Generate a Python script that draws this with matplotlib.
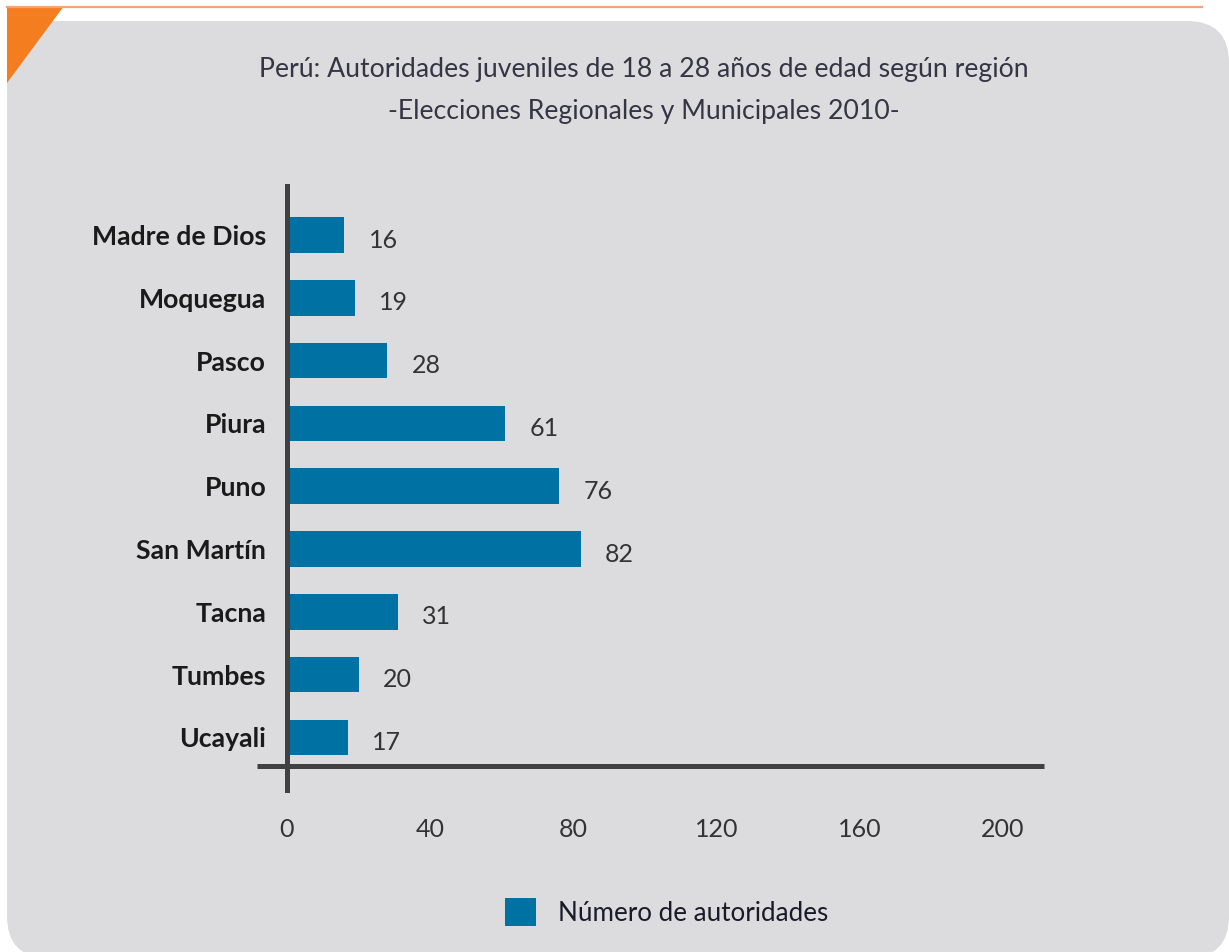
import matplotlib.pyplot as plt
from matplotlib.patches import FancyBboxPatch, Polygon

plt.rcParams['font.family'] = ['Lato', 'DejaVu Sans']

regions = ["Madre de Dios", "Moquegua", "Pasco", "Piura", "Puno",
           "San Martín", "Tacna", "Tumbes", "Ucayali"]
autoridades = [16, 19, 28, 61, 76, 82, 31, 20, 17]
xticks = [0, 40, 80, 120, 160, 200]

title = ("Perú: Autoridades juveniles de 18 a 28 años de edad según región\n"
         "-Elecciones Regionales y Municipales 2010-")
legend_label = "Número de autoridades"

W, H = 1229, 952
fig = plt.figure(figsize=(W / 100, H / 100), dpi=100, facecolor="white")

# background layer in pixel units
bg = fig.add_axes([0, 0, 1, 1])
bg.set_xlim(0, W)
bg.set_ylim(H, 0)
bg.set_axis_off()
bg.add_patch(FancyBboxPatch((7, 21), 1222, 937,
                            boxstyle="round,pad=0,rounding_size=42",
                            fc="#dcdcde", ec="none"))
bg.plot([7, 1202], [7, 7], color="#f5a477", lw=1.6)
bg.add_patch(Polygon([(7, 6), (64, 6), (7, 83)], closed=True,
                     fc="#f47d20", ec="none"))

bg.text(644, 90, title, ha="center", va="center", fontsize=19.2,
        color="#353545", linespacing=1.85)

# bar chart
x0, x1 = 287, 1044
y_top, y_bot = 186, 790
ax = fig.add_axes([x0 / W, 1 - y_bot / H, (x1 - x0) / W, (y_bot - y_top) / H])
ax.patch.set_alpha(0)
scale = (1003 - 287) / 200
step = 62.8
ax.set_xlim(0, (x1 - x0) / scale)
ax.set_ylim((y_bot - 235) / step, -(235 - y_top) / step)

pos = list(range(len(regions)))
bars = ax.barh(pos, autoridades, height=0.57, color="#0071a3", zorder=2)
for p, v in zip(pos, autoridades):
    ax.text(v + 6.8, p + 0.08, str(v), ha="left", va="center",
            fontsize=18, color="#333333")

for s in ax.spines.values():
    s.set_visible(False)
ax.axvline(0, color="#404040", lw=3.6, clip_on=False, zorder=3)
y_axis = (766 - 235) / step
ax.plot([-30 / scale, (x1 - x0) / scale], [y_axis, y_axis],
        color="#404040", lw=3.6, clip_on=False, zorder=3,
        solid_capstyle="butt")

ax.set_yticks(pos)
ax.set_yticklabels(regions, fontsize=19.2, fontweight="bold", color="#1a1a1a")
ax.set_xticks(xticks)
ax.set_xticklabels([str(t) for t in xticks], fontsize=18, color="#333333")
ax.tick_params(axis="y", length=0, pad=15)
ax.tick_params(axis="x", length=0, pad=20)

fig.legend([bars], [legend_label], loc="center",
           bbox_to_anchor=(667 / W, 1 - 912 / H), frameon=False,
           fontsize=18.7, handlelength=1.2, handleheight=1.3,
           handletextpad=0.85, labelcolor="#1a1a2a")

fig.savefig("out.png", dpi=100, facecolor="white")
